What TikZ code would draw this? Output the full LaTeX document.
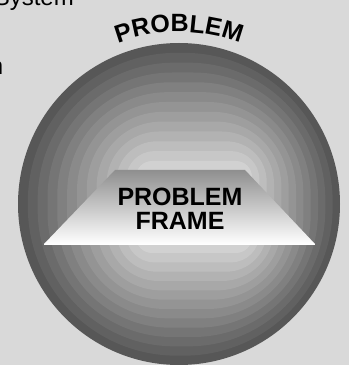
\documentclass[tikz,border=0pt]{standalone}
\usepackage{fontspec}
\usepackage{tikz}
\usetikzlibrary{decorations.text}
\newfontfamily\labelfont{Liberation Sans}
\definecolor{bggray}{HTML}{D9D9D9}
\newcommand{\arcfont}{\fontsize{25}{25}\selectfont\labelfont\bfseries}

\begin{document}
\begin{tikzpicture}[x=1pt, y=1pt,
  cuttext/.style={inner sep=0pt, font=\fontsize{24}{24}\selectfont\labelfont},
  frametext/.style={inner sep=0pt, align=center, font=\fontsize{25}{24}\selectfont\labelfont\bfseries}
]
  \useasboundingbox (0,0) rectangle (349,365);
  \clip (0,0) rectangle (349,365);
  \fill[bggray] (0,0) rectangle (349,365);

  % cut-off text at the left border
  \node[cuttext, anchor=base east] (sys) at (74,359) {System};
  \node[cuttext, anchor=base east] (frag) at (3.5,290) {n};

  % banded sphere: circle blending into a rounded box
  \foreach \i in {0,...,12} {
    \pgfmathsetmacro{\t}{\i/12}
    \pgfmathsetmacro{\cx}{179 + \t*(194-179)}
    \pgfmathsetmacro{\cy}{161 + \t*(158-161)}
    \pgfmathsetmacro{\hw}{161 + \t*(58-161)}
    \pgfmathsetmacro{\hh}{161 + \t*(46-161)}
    \pgfmathsetmacro{\rc}{161 + \t*(16-161)}
    \pgfmathsetmacro{\pct}{66 - \i*4}
    \fill[black!\pct, rounded corners=\rc pt]
      (\cx-\hw,\cy-\hh) rectangle (\cx+\hw,\cy+\hh);
  }

  % frame
  \shade[top color=black!44, bottom color=white]
    (115,195) -- (245,195) -- (315,121) -- (44,121) -- cycle;
  \draw[white, line width=1.5pt] (44,120.5) -- (315,120.5);
  \node[frametext] (frame) at (180,156) {PROBLEM\\FRAME};

  % label on the arc
  \path[decorate, decoration={text along path, text align=center,
      text={|\arcfont|PROBLEM}}]
    (179,161) ++(130:172) arc[start angle=130, end angle=50, radius=172];
\end{tikzpicture}
\end{document}
